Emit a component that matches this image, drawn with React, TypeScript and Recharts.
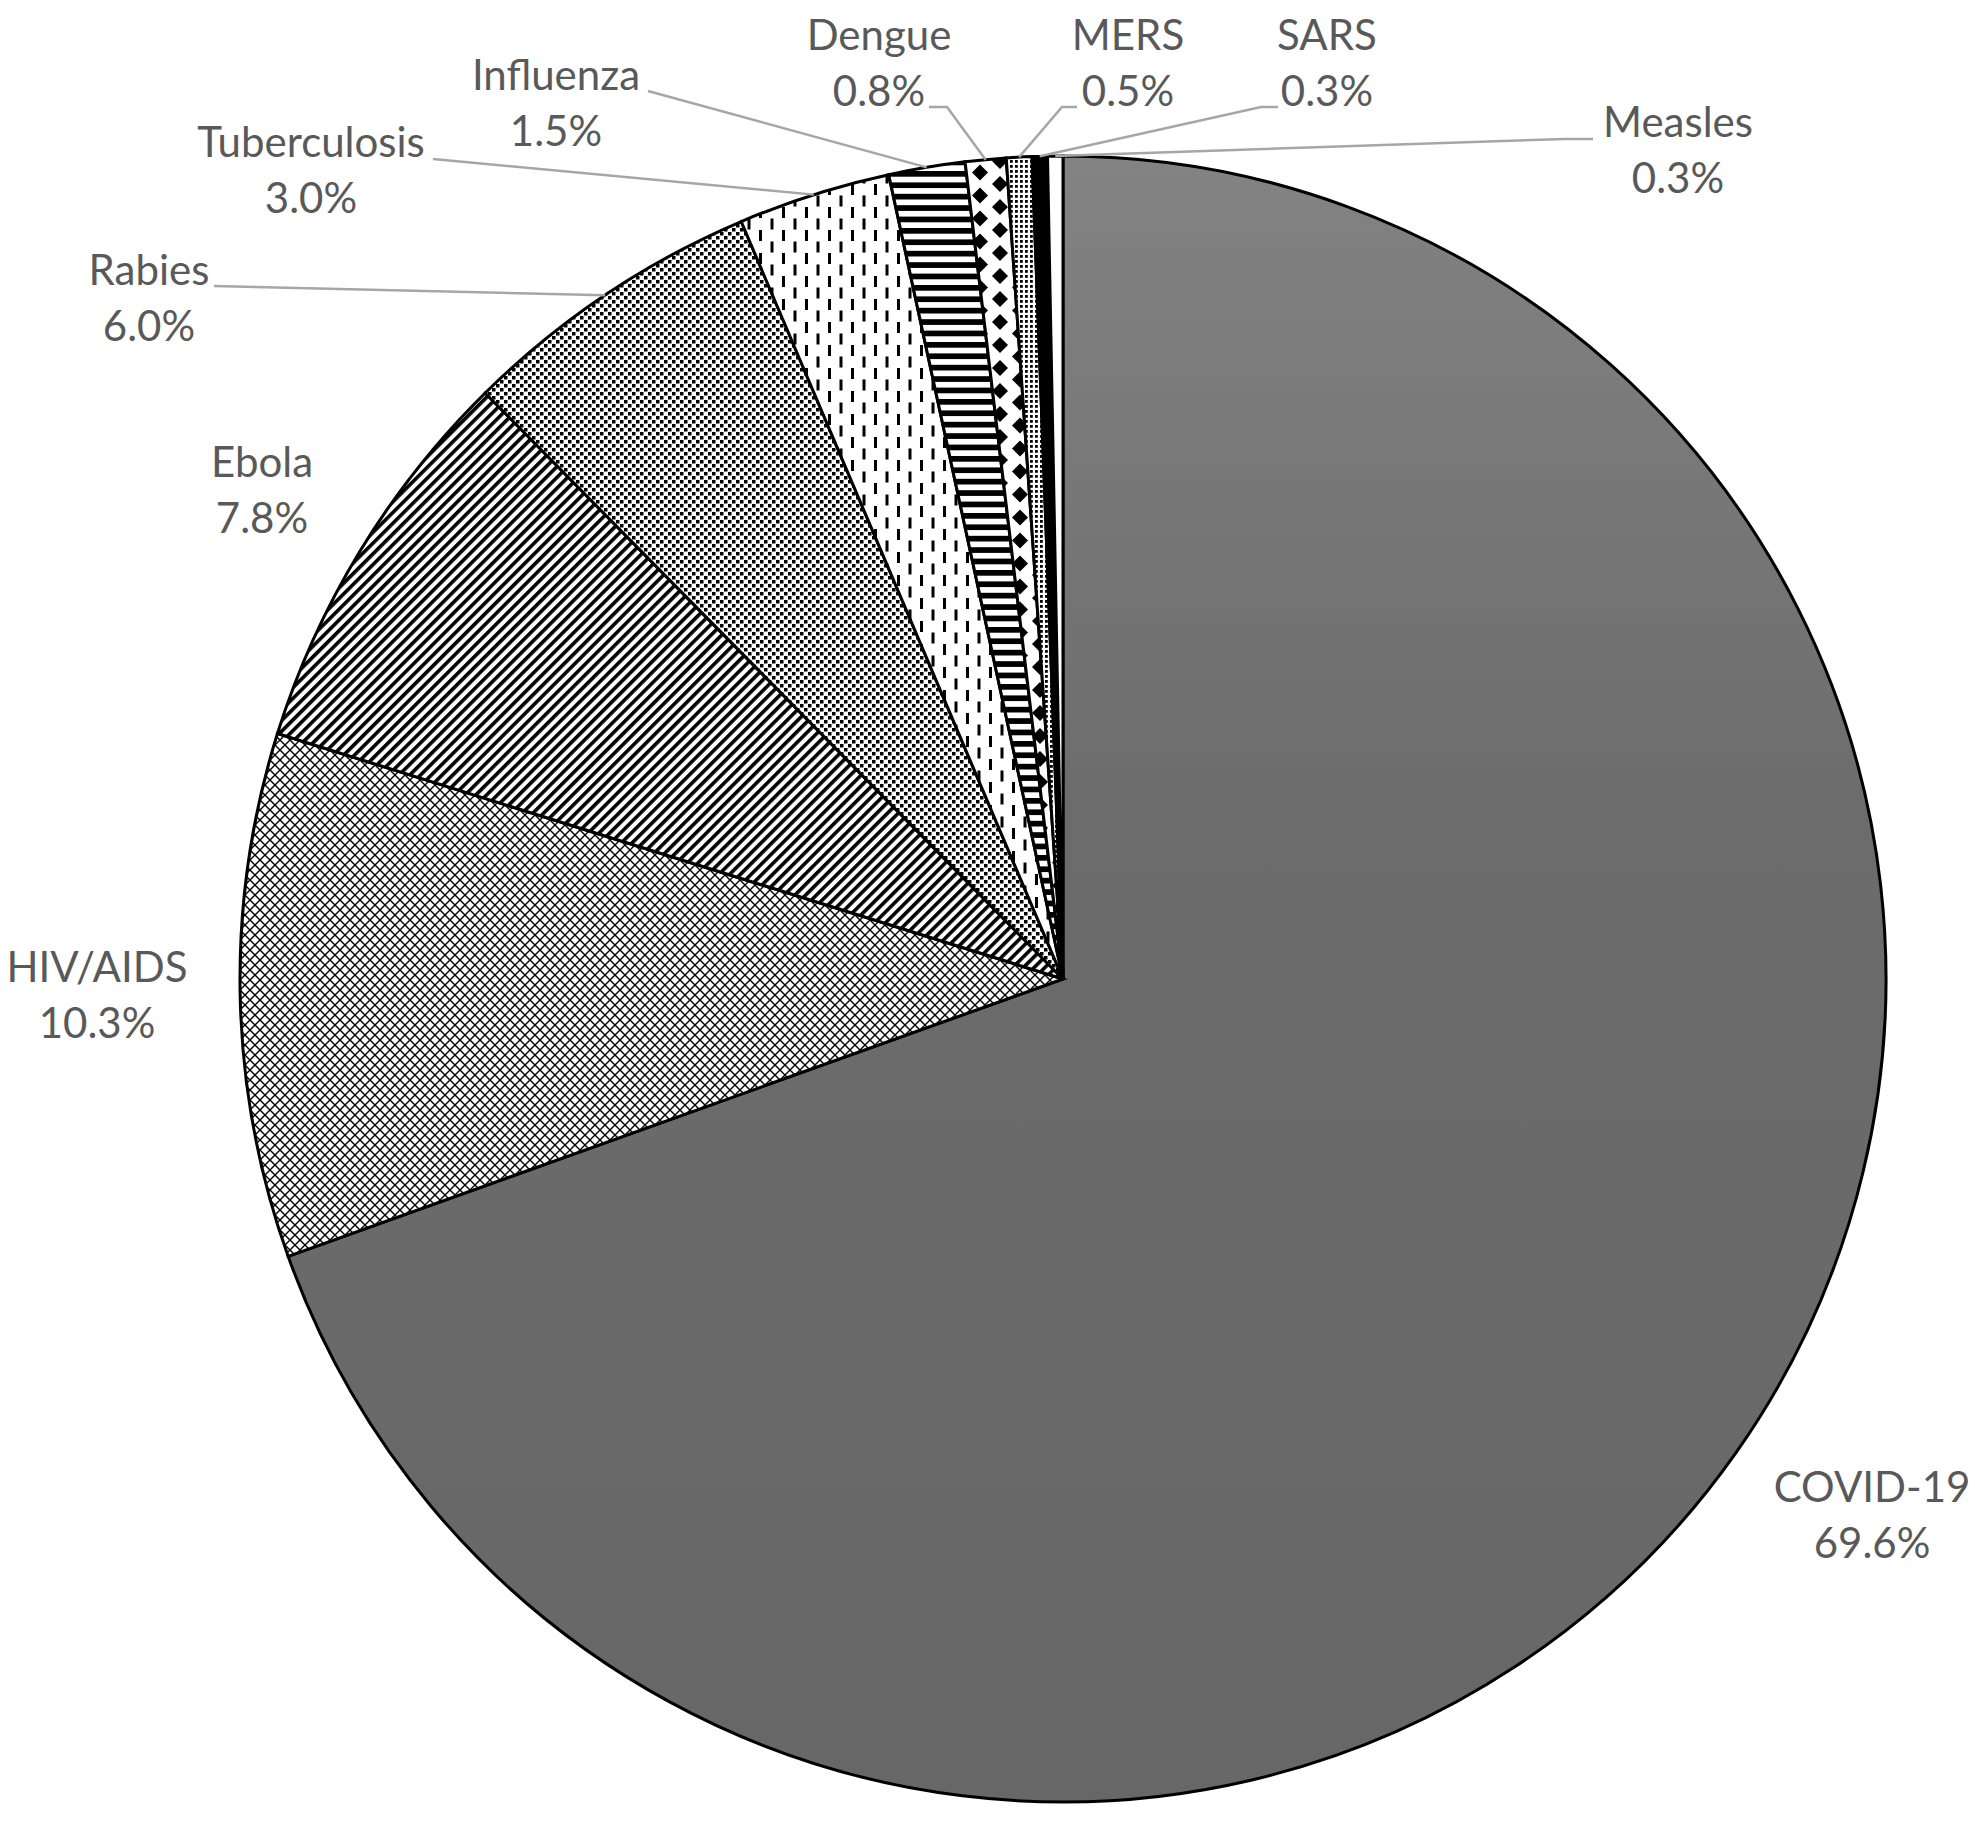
import { PieChart, Pie, Cell } from "recharts";

const diseases = [
  "COVID-19",
  "HIV/AIDS",
  "Ebola",
  "Rabies",
  "Tuberculosis",
  "Influenza",
  "Dengue",
  "MERS",
  "SARS",
  "Measles",
];
const shares = [69.6, 10.3, 7.8, 6.0, 3.0, 1.5, 0.8, 0.5, 0.3, 0.3];

const data = diseases.map((name, i) => ({ name, value: shares[i] }));

// one fill per slice (patterns defined below)
const sliceFills = [
  "url(#covidShade)",
  "url(#hivCross)",
  "url(#ebolaDiag)",
  "url(#rabiesDots)",
  "url(#tbDash)",
  "url(#fluStripes)",
  "url(#dengueDiamond)",
  "url(#mersDots)",
  "#000000",
  "#ffffff",
];

// label layout (page px): text centre x, first baseline y, leader points from the label side
const labelX = [1872, 97, 262, 149, 311, 556, 879, 1128, 1327, 1678];
const labelY = [1502, 982, 477, 285, 157, 90, 50, 50, 50, 137];
const leaders: number[][][] = [
  [],
  [],
  [],
  [[214, 286]],
  [[433, 159]],
  [[648, 91]],
  [[929, 107], [947, 107]],
  [[1077, 107], [1062, 107]],
  [[1278, 107], [1261, 107]],
  [[1593, 139], [1565, 139]],
];

const RAD = Math.PI / 180;

function renderLabel(props: any) {
  const { cx, cy, midAngle, outerRadius, index } = props;
  const ex = cx + outerRadius * Math.cos(-midAngle * RAD);
  const ey = cy + outerRadius * Math.sin(-midAngle * RAD);
  const pts = leaders[index];
  const x = labelX[index];
  return (
    <g key={`lbl-${index}`}>
      {pts.length > 0 && (
        <polyline
          points={[...pts, [ex, ey]].map((p) => p.join(",")).join(" ")}
          fill="none"
          stroke="#a6a6a6"
          strokeWidth={2.5}
        />
      )}
      <text
        x={x}
        y={labelY[index]}
        textAnchor="middle"
        fill="#595959"
        fontFamily="Lato, sans-serif"
        fontSize={42}
      >
        <tspan x={x}>{diseases[index]}</tspan>
        <tspan x={x} dy={56}>
          {shares[index].toFixed(1)}%
        </tspan>
      </text>
    </g>
  );
}

export default function App() {
  return (
    <div
      style={{
        position: "absolute",
        left: 0,
        top: 0,
        width: 1975,
        height: 1825,
        background: "#ffffff",
      }}
    >
      <PieChart width={1975} height={1825} margin={{ top: 0, right: 0, bottom: 0, left: 0 }}>
        <defs>
          <linearGradient
            id="covidShade"
            gradientUnits="userSpaceOnUse"
            x1="0"
            y1="156"
            x2="0"
            y2="1802"
          >
            <stop offset="0" stopColor="#838383" />
            <stop offset="0.4" stopColor="#6c6c6c" />
            <stop offset="1" stopColor="#676767" />
          </linearGradient>
          <pattern id="hivCross" patternUnits="userSpaceOnUse" width="10" height="10">
            <rect width="10" height="10" fill="#fff" />
            <path d="M-1,-1 L11,11 M11,-1 L-1,11" stroke="#000" strokeWidth="1.4" />
          </pattern>
          <pattern
            id="ebolaDiag"
            patternUnits="userSpaceOnUse"
            width="7.6"
            height="7.6"
            patternTransform="rotate(45)"
          >
            <rect width="7.6" height="7.6" fill="#fff" />
            <rect width="3.6" height="7.6" fill="#000" />
          </pattern>
          <pattern id="rabiesDots" patternUnits="userSpaceOnUse" width="8" height="8">
            <rect width="8" height="8" fill="#fff" />
            <rect x="0" y="0" width="3.5" height="3.5" fill="#000" />
            <rect x="4" y="4" width="3.5" height="3.5" fill="#000" />
          </pattern>
          <pattern id="tbDash" patternUnits="userSpaceOnUse" width="23" height="23">
            <rect width="23" height="23" fill="#fff" />
            <rect x="0" y="0" width="3" height="11" fill="#000" />
            <rect x="11.5" y="11.5" width="3" height="11" fill="#000" />
          </pattern>
          <pattern id="fluStripes" patternUnits="userSpaceOnUse" width="12" height="11.4">
            <rect width="12" height="11.4" fill="#fff" />
            <rect width="12" height="5.7" fill="#000" />
          </pattern>
          <pattern id="dengueDiamond" patternUnits="userSpaceOnUse" width="40" height="23">
            <rect width="40" height="23" fill="#fff" />
            <path
              d="M0,-8 L8,0 L0,8 L-8,0Z M40,-8 L48,0 L40,8 L32,0Z M0,15 L8,23 L0,31 L-8,23Z M40,15 L48,23 L40,31 L32,23Z M20,3.5 L28,11.5 L20,19.5 L12,11.5Z"
              fill="#000"
            />
          </pattern>
          <pattern id="mersDots" patternUnits="userSpaceOnUse" width="5" height="5">
            <rect width="5" height="5" fill="#fff" />
            <rect width="2.8" height="2.8" fill="#000" />
          </pattern>
        </defs>
        <Pie
          data={data}
          dataKey="value"
          nameKey="name"
          cx={1063}
          cy={979}
          outerRadius={823}
          startAngle={90}
          endAngle={-270}
          stroke="#000"
          strokeWidth={3}
          label={renderLabel}
          labelLine={false}
          isAnimationActive={false}
        >
          {data.map((d, i) => (
            <Cell key={d.name} fill={sliceFills[i]} />
          ))}
        </Pie>
      </PieChart>
    </div>
  );
}
